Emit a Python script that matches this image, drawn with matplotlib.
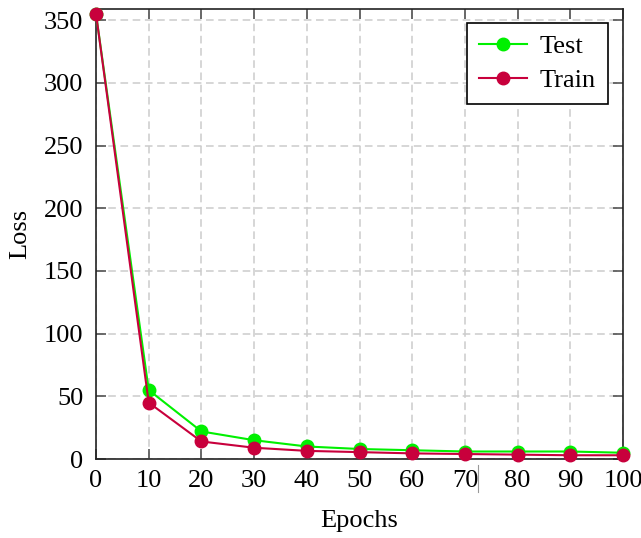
import matplotlib
matplotlib.use("Agg")
import matplotlib.pyplot as plt
from matplotlib.lines import Line2D

epochs = [0, 10, 20, 30, 40, 50, 60, 70, 80, 90, 100]
test_loss = [355, 55, 22, 15, 10, 8, 7, 6, 6, 6, 5]
train_loss = [355, 45, 14, 9, 6.5, 5.5, 4.5, 4, 3.5, 3, 3]
yticks = [0, 50, 100, 150, 200, 250, 300, 350]

plt.rcParams['font.family'] = ['Liberation Serif', 'DejaVu Serif']
plt.rcParams['font.size'] = 19

fig = plt.figure(figsize=(6.41, 5.38), dpi=100)
ax = fig.add_axes([0.1498, 0.1468, 0.8222, 0.8365])

ax.plot(epochs, test_loss, color="#00f000", lw=1.5, marker="o", ms=9, label="Test",
        zorder=3, clip_on=False)
ax.plot(epochs, train_loss, color="#c8003c", lw=1.5, marker="o", ms=9, label="Train",
        zorder=4, clip_on=False)

ax.set_xlim(0, 100)
ax.set_ylim(0, 359)
ax.set_xticks(epochs)
ax.set_yticks(yticks)
ax.grid(True, color="#cccccc", ls=(0, (5, 3)), lw=1.1)
ax.set_axisbelow(True)
ax.tick_params(direction="in", length=7, width=1.2, color="#555555",
               top=True, right=True, labelsize=19)
ax.tick_params(axis="y", pad=9)
ax.tick_params(axis="x", pad=8)
for s in ax.spines.values():
    s.set_linewidth(1.2)
    s.set_color("#222222")

ax.set_xlabel("Epochs", fontsize=19, labelpad=13)
ax.set_ylabel("Loss", fontsize=19, labelpad=9)

leg = ax.legend(loc="upper right", fancybox=False, framealpha=1, edgecolor="black",
                fontsize=19, handlelength=1.8, borderpad=0.45, labelspacing=0.4,
                handletextpad=0.5, borderaxespad=0.0,
                bbox_to_anchor=(1 - 15 / 527, 1 - 14 / 450))
leg.get_frame().set_linewidth(1.2)

# small stray mark beside the 70 label
fig.add_artist(Line2D([478 / 641, 478 / 641], [1 - 465 / 538, 1 - 492 / 538],
                      color="#999999", lw=0.8))

plt.savefig("out.png", dpi=100)
